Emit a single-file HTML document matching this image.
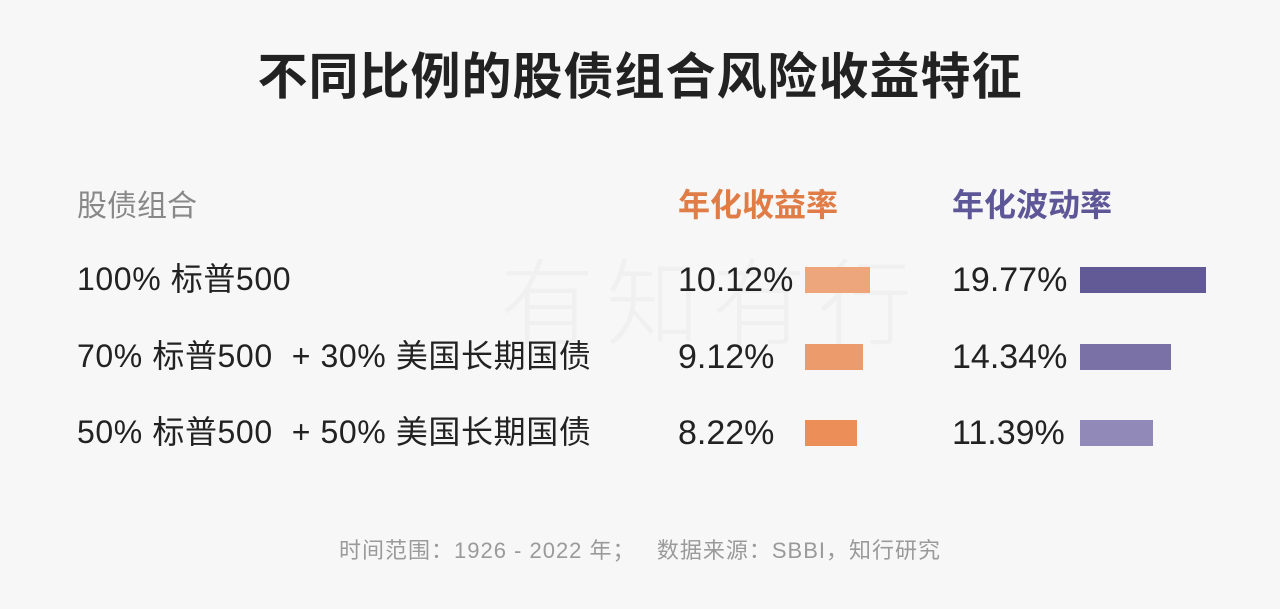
<!DOCTYPE html>
<html><head><meta charset="utf-8"><style>
body{margin:0;width:1280px;height:609px;background:#f7f7f7;font-family:"Liberation Sans","Noto Sans CJK SC",sans-serif;position:relative;overflow:hidden;color:#222}
.t{position:absolute;white-space:nowrap;line-height:1}
</style></head><body>
<div class="t" style="left:500px;top:258px;font-size:94px;color:#f0f0f0;letter-spacing:12px;font-weight:300">有知有行</div>
<div class="t" style="left:0;width:1280px;text-align:center;top:52px;font-size:50px;font-weight:bold;color:#222;letter-spacing:1px">不同比例的股债组合风险收益特征</div>
<div class="t" style="left:77px;top:192px;font-size:30px;color:#888">股债组合</div>
<div class="t" style="left:678px;top:189px;font-size:32px;font-weight:bold;color:#e07c45">年化收益率</div>
<div class="t" style="left:952px;top:189px;font-size:32px;font-weight:bold;color:#5e5797">年化波动率</div>
<div id="rows"></div>
<div class="t" style="left:0;width:1280px;text-align:center;top:540px;font-size:22px;color:#9a9a9a;letter-spacing:1px">时间范围：1926 - 2022 年；&nbsp;&nbsp;&nbsp;数据来源：SBBI，知行研究</div>
<script>
const categories=["100% 标普500","70% 标普500 &nbsp;+ 30% 美国长期国债","50% 标普500 &nbsp;+ 50% 美国长期国债"];
const returns=[10.12,9.12,8.22];
const vols=[19.77,14.34,11.39];
const retColors=["#eda57c","#ec9b6d","#eb8e57"];
const volColors=["#625a96","#7a72a6","#9189b8"];
const scale=v=>v*6.38;
const rowsEl=document.getElementById('rows');
const rowY=[280,357,433];
function add(html){const d=document.createElement('div');d.innerHTML=html;const e=d.firstChild;rowsEl.appendChild(e);return e;}
categories.forEach((c,i)=>{
  const y=rowY[i];
  const l=add(`<div class="t" style="left:77px;top:${y-17}px;font-size:32px;letter-spacing:0.6px">${c}</div>`);
  
  
  const rv=add(`<div class="t" style="left:678px;top:${y-17}px;font-size:34px">${returns[i].toFixed(2)}%</div>`);
  
  
  const rb=add(`<div style="position:absolute;left:805px;top:${y-13}px;height:26px;width:${scale(returns[i])}px;background:${retColors[i]}"></div>`);
  
  
  const vv=add(`<div class="t" style="left:952px;top:${y-17}px;font-size:34px">${vols[i].toFixed(2)}%</div>`);
  
  
  const vb=add(`<div style="position:absolute;left:1080px;top:${y-13}px;height:26px;width:${scale(vols[i])}px;background:${volColors[i]}"></div>`);
  
  
});
</script>
</body></html>
